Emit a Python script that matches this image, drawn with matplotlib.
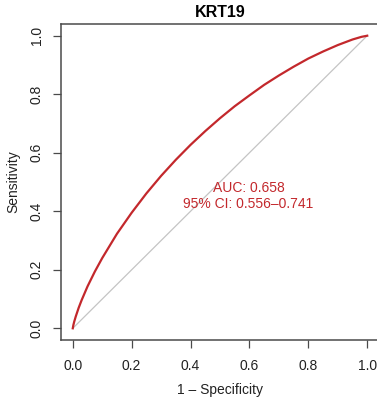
import matplotlib.pyplot as plt

plt.rcParams['font.family'] = ['Liberation Sans', 'DejaVu Sans']

# smoothed ROC curve for KRT19 (1 - specificity, sensitivity)
fpr = [0.0, 0.002, 0.005, 0.01, 0.02, 0.03, 0.05, 0.075, 0.1, 0.15, 0.2, 0.25,
       0.3, 0.35, 0.4, 0.45, 0.5, 0.55, 0.6, 0.65, 0.7, 0.75, 0.8, 0.85,
       0.9, 0.95, 0.98, 1.0]
tpr = [0.0, 0.011, 0.023, 0.040, 0.070, 0.096, 0.143, 0.194, 0.240, 0.323,
       0.395, 0.461, 0.521, 0.576, 0.627, 0.674, 0.718, 0.759, 0.796, 0.832,
       0.864, 0.894, 0.922, 0.946, 0.968, 0.987, 0.996, 1.0]
auc = 0.658
ci = (0.556, 0.741)
ticks = [0.0, 0.2, 0.4, 0.6, 0.8, 1.0]

red = '#c3282c'
axcol = '#4a4a4a'

fig = plt.figure(figsize=(3.77, 4.03), dpi=100)
W, H = 377, 403
ax = fig.add_axes([61 / W, (H - 340) / H, 318 / W, 316 / H])

ax.plot([0, 1], [0, 1], color='#c4c4c4', lw=0.9)
ax.plot(fpr, tpr, color=red, lw=1.6)

ax.text(0.597, 0.481, f'AUC: {auc:.3f}', color=red, fontsize=10, ha='center', va='center')
ax.text(0.597, 0.425, f'95% CI: {ci[0]:.3f}\u2013{ci[1]:.3f}', color=red, fontsize=10,
        ha='center', va='center')

ax.set_xlim(-0.04, 1.04)
ax.set_ylim(-0.04, 1.04)
ax.set_xticks(ticks)
ax.set_yticks(ticks)
ax.set_xticklabels([f'{t:.1f}' for t in ticks])
ax.set_yticklabels([f'{t:.1f}' for t in ticks], rotation=90, va='center')
ax.tick_params(direction='out', length=5.8, width=0.9, colors=axcol, labelcolor='#222222',
               labelsize=10)
ax.tick_params(axis='x', pad=8)
ax.tick_params(axis='y', pad=6.5)
for s in ax.spines.values():
    s.set_color(axcol)
    s.set_linewidth(1.1)

ax.set_xlabel('1 \u2013 Specificity', fontsize=10, color='#222222', labelpad=7)
ax.set_ylabel('Sensitivity', fontsize=10, color='#222222', labelpad=7)
ax.set_title('KRT19', fontsize=11.5, fontweight='bold', pad=5)

fig.savefig('out.png', dpi=100)
